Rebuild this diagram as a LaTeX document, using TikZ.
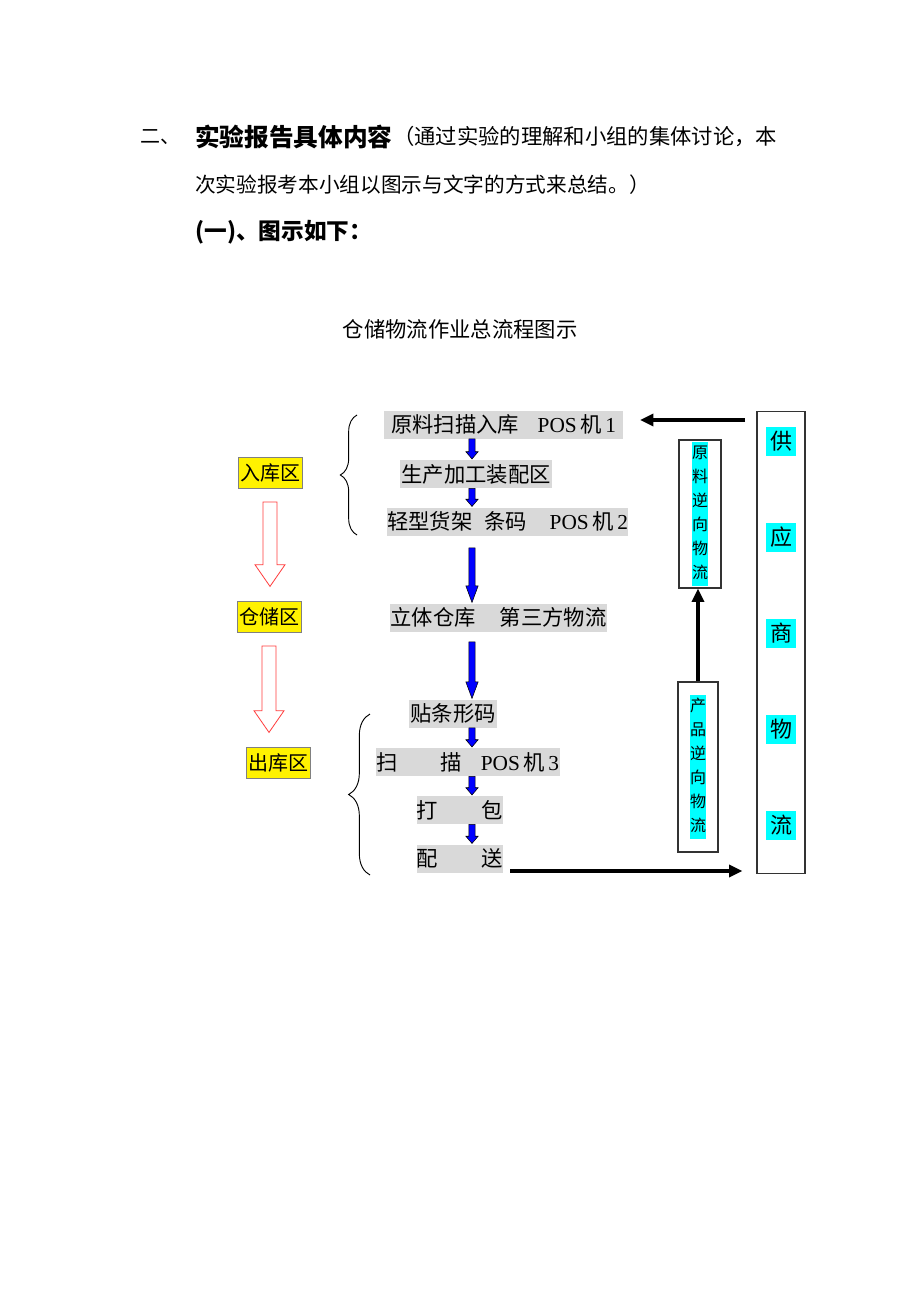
\documentclass[tikz,border=0pt]{standalone}
\usepackage{fontspec}
\setmainfont{Noto Sans CJK SC}
\newfontfamily\lat{Liberation Serif}
\usepackage{tikz}
\usetikzlibrary{calc, decorations.pathreplacing, arrows.meta}
\definecolor{boxgray}{RGB}{217,217,217}
\definecolor{redline}{RGB}{255,60,60}
\definecolor{aqua}{RGB}{0,255,255}
\newcommand{\cy}[1]{{\setlength{\fboxsep}{0pt}\colorbox{aqua}{\strut #1}}}
\newcommand{\cyb}[1]{{\setlength{\fboxsep}{3pt}\colorbox{aqua}{#1}}}
\tikzstyle{flow} = [fill=boxgray, inner sep=0pt, minimum height=21pt, font=\fontsize{16pt}{19pt}\selectfont]
\tikzstyle{zone} = [fill=yellow, draw=gray, inner sep=1.5pt, minimum height=23pt, font=\fontsize{15pt}{18pt}\selectfont]
\tikzstyle{vbox} = [draw=black!80, line width=0.8pt, inner sep=0pt]
\tikzstyle{blk} = [line width=2.6pt, -{Triangle[length=10pt,width=9pt]}]
% blue block arrow between two flow boxes: from, to, top gap, head length
\newcommand{\downarr}[4]{%
  \filldraw[fill=blue, draw=black, line width=0.4pt] let \p1=(axis |- #1.south), \p2=(axis |- #2.north) in
    (\x1-2.3pt,\y1-#3) -- (\x1-2.3pt,\y2+#4) -- (\x1-4.6pt,\y2+#4) -- (\x2,\y2+0.6pt)
    -- (\x1+4.6pt,\y2+#4) -- (\x1+2.3pt,\y2+#4) -- (\x1+2.3pt,\y1-#3) -- cycle;}
% hollow red arrow between two zones
\newcommand{\zonearr}[2]{%
  \draw[redline, line width=0.6pt] let \p1=(#1.south), \p2=(#2.north) in
    (\x1-5.25pt,\y1-10pt) -- (\x1-5.25pt,\y2+27.5pt) -- (\x1-11.25pt,\y2+27.5pt) -- (\x1,\y2+11.25pt)
    -- (\x1+11.25pt,\y2+27.5pt) -- (\x1+5.25pt,\y2+27.5pt) -- (\x1+5.25pt,\y1-10pt) -- cycle;}

\begin{document}
\begin{tikzpicture}[x=0.75pt, y=-0.75pt]
    \fill[white] (0,0) rectangle (920,1302);
    \useasboundingbox (0,0) rectangle (920,1302);
    % heading
    \node (sec) [anchor=west, inner sep=0pt, font=\fontsize{15pt}{18pt}\selectfont] at (140,137) {二、};
    \node (sectitle) [anchor=west, inner sep=0pt, font=\bfseries\fontsize{18.5pt}{22pt}\selectfont] at (195,137) {实验报告具体内容};
    \node (secnote) [anchor=west, inner sep=0pt, font=\fontsize{16pt}{19pt}\selectfont] at (sectitle.east) {（通过实验的理解和小组的集体讨论，本};
    \node (secnote2) [anchor=west, inner sep=0pt, font=\fontsize{15.5pt}{19pt}\selectfont] at (195,185) {次实验报考本小组以图示与文字的方式来总结。）};
    \node (sub) [anchor=west, inner sep=0pt, font=\bfseries\fontsize{17pt}{20pt}\selectfont] at (195,232) {(一)、图示如下：};
    \node (title) [font=\fontsize{16pt}{19pt}\selectfont] at (460,329) {仓储物流作业总流程图示};
    % flow boxes
    \coordinate (axis) at (472,0);
    \node (raw) [flow, minimum width=179pt] at (503.5,424.5) {原料扫描入库\hspace{14pt}{\lat POS}\,机\,{\lat 1}};
    \node (assembly) [flow, minimum width=114pt] at (476,474) {生产加工装配区};
    \node (shelf) [flow, minimum width=179pt] at (507.5,521.5) {轻型货架\hspace{9pt}条码\hspace{17pt}{\lat POS}\,机\,{\lat 2}};
    \node (stereo) [flow, minimum width=163pt] at (498.5,617.5) {立体仓库\hspace{18pt}第三方物流};
    \node (label) [flow, minimum width=66pt] at (453,713.5) {贴条形码};
    \node (scan) [flow, minimum width=138pt] at (468,762) {扫\hspace{32pt}描\hspace{14pt}{\lat POS}\,机\,{\lat 3}};
    \node (pack) [flow, minimum width=64.5pt] at (460,810) {打\hspace{33pt}包};
    \node (ship) [flow, minimum width=64.5pt] at (460,858.5) {配\hspace{33pt}送};
    \downarr{raw}{assembly}{0pt}{6pt}
    \downarr{assembly}{shelf}{0pt}{6pt}
    \downarr{shelf}{stereo}{9pt}{13pt}
    \downarr{stereo}{label}{7.5pt}{13pt}
    \downarr{label}{scan}{0pt}{6pt}
    \downarr{scan}{pack}{0pt}{6pt}
    \downarr{pack}{ship}{0pt}{6pt}
    % zones
    \node (inzone) [zone] at (270,473) {入库区};
    \node (storezone) [zone] at (269,617) {仓储区};
    \node (outzone) [zone] at (278,763) {出库区};
    \zonearr{inzone}{storezone}
    \zonearr{storezone}{outzone}
    \draw[decorate, decoration={brace, amplitude=12.5pt}, line width=0.7pt] (357,535) -- (357,415);
    \draw[decorate, decoration={brace, amplitude=16pt}, line width=0.7pt] (370,875) -- (370,714);
    % supplier side
    \node (sup) [vbox, minimum width=36pt, minimum height=347pt] at (781,642.5) {};
    \node (suptext) [align=center, inner sep=0pt, font=\fontsize{16.5pt}{72pt}\selectfont] at (781,633.5)
        {\cyb{供}\\\cyb{应}\\\cyb{商}\\\cyb{物}\\\cyb{流}};
    \node (rawrev) [vbox, align=center, minimum width=31.5pt, minimum height=111pt, font=\fontsize{12pt}{18pt}\selectfont] at (700,514)
        {\cy{原}\\\cy{料}\\\cy{逆}\\\cy{向}\\\cy{物}\\\cy{流}};
    \node (prodrev) [vbox, align=center, minimum width=30pt, minimum height=127.5pt, font=\fontsize{12pt}{18pt}\selectfont] at (698,767)
        {\cy{产}\\\cy{品}\\\cy{逆}\\\cy{向}\\\cy{物}\\\cy{流}};
    \coordinate (in) at (745,420);
    \coordinate (out) at (510,871);
    \draw[blk, shorten >=12.75pt] (in) -- (in -| raw.east);
    \draw[blk, shorten >=10.5pt] (out) -- (out -| sup.west);
    \draw[blk] (prodrev.north) -- (prodrev.north |- rawrev.south);
\end{tikzpicture}
\end{document}
